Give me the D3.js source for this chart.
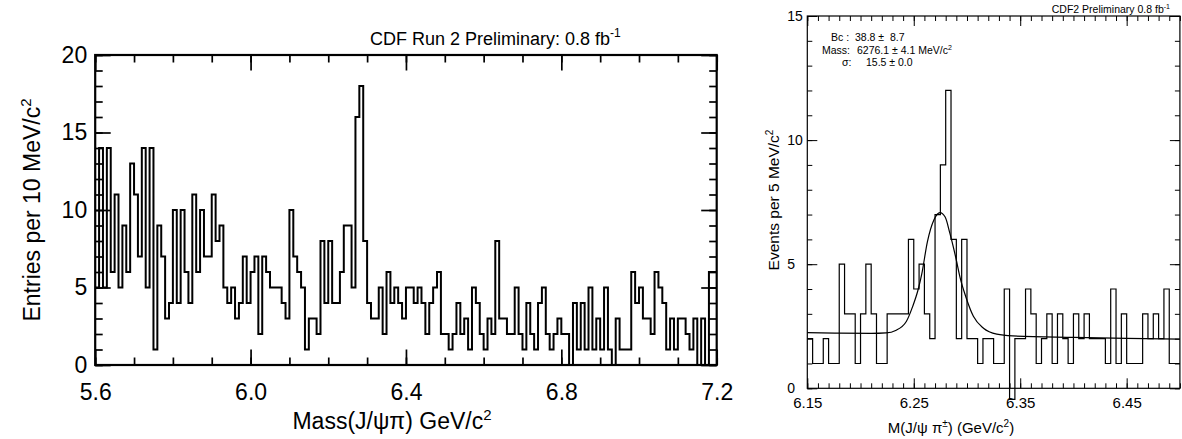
<!DOCTYPE html>
<html lang="en">

<head>
    <meta charset="UTF-8">
    <script src="https://d3js.org/d3.v7.min.js"></script>
    <title>Bc to J/psi pi mass</title>
    <style>
        body { margin: 0; background: #fff; }
        svg text { font-family: "Liberation Sans", Arial, sans-serif; fill: #000; }
    </style>
</head>

<body>
    <svg id="chart" width="1182" height="439"></svg>

    <script>
        // Left panel: entries per 10 MeV bin, 5.6 - 7.2 GeV
        const leftStart = 5.6;
        const leftBinWidth = 0.01;
        const leftCounts = [
            5, 14, 5, 14, 6, 11, 5, 9, 6, 13,
            11, 7, 14, 5, 14, 1, 9, 7, 3, 4,
            10, 4, 10, 6, 4, 11, 6, 10, 7, 7,
            11, 8, 9, 5, 4, 5, 3, 4, 7, 4,
            6, 7, 2, 7, 6, 5, 5, 5, 4, 3,
            10, 7, 6, 5, 1, 3, 3, 2, 8, 4,
            8, 4, 4, 6, 9, 9, 5, 16, 18, 8,
            4, 3, 3, 5, 2, 6, 4, 5, 4, 3,
            5, 5, 4, 5, 4, 2, 4, 5, 6, 2,
            2, 1, 2, 4, 2, 3, 1, 5, 4, 2,
            1, 3, 2, 8, 3, 3, 2, 2, 5, 2,
            1, 4, 2, 1, 4, 5, 2, 1, 2, 3,
            2, 2, 0, 4, 1, 4, 1, 5, 1, 3,
            1, 5, 1, 0, 3, 1, 1, 1, 6, 4,
            5, 3, 3, 2, 6, 5, 4, 1, 3, 1,
            3, 3, 2, 1, 3, 0, 3, 0, 6, 6
        ];
        const leftXTicks = [5.6, 6.0, 6.4, 6.8, 7.2];
        const leftYTicks = [0, 5, 10, 15, 20];

        // Right panel: events per 5 MeV bin, 6.15 - 6.50 GeV
        const rightStart = 6.15;
        const rightBinWidth = 0.005;
        const rightCounts = [
            2, 1, 1, 2, 1, 1, 5, 3, 3, 1,
            3, 5, 3, 1, 1, 3, 3, 3, 3, 6,
            4, 5, 3, 2, 7, 9, 12, 6, 2, 6,
            2, 2, 1, 2, 2, 1, 1, 4, 0, 2,
            2, 4, 3, 1, 2, 3, 1, 3, 2, 1,
            3, 2, 3, 2, 2, 2, 1, 4, 1, 3,
            1, 1, 1, 3, 2, 3, 2, 4, 1, 1
        ];
        const rightXTicks = [6.15, 6.25, 6.35, 6.45];
        const rightYTicks = [0, 5, 10, 15];

        // fitted curve
        const fitMass = [6.150, 6.180, 6.210, 6.224, 6.233, 6.243, 6.249, 6.254, 6.2575, 6.2628,
            6.2691, 6.2746, 6.2795, 6.2839, 6.2893, 6.2937, 6.2988, 6.306, 6.3155, 6.328,
            6.343, 6.400, 6.450, 6.500];
        const fitValue = [2.24, 2.22, 2.21, 2.23, 2.33, 2.69, 3.30, 3.96, 4.6, 5.9,
            6.8, 7.08, 6.9, 6.25, 5.3, 4.43, 3.7, 2.9, 2.42, 2.18,
            2.11, 2.05, 2.01, 1.98];

        const fitLabels = ["Bc :", "Mass:", "\u03c3:"];
        const fitValues = ["38.8 \u00b1  8.7", "6276.1 \u00b1 4.1 MeV/c", "15.5 \u00b1 0.0"];

        const svg = d3.select("svg#chart");

        // step outline for a histogram
        function histPoints(start, bw, counts, floorZero) {
            const pts = counts.map((c, i) => [start + i * bw, (c === 0 && floorZero !== undefined) ? floorZero : c]);
            pts.push([start + counts.length * bw, counts[counts.length - 1]]);
            return pts;
        }

        // ticks pointing into the frame, on all four sides
        function frameTicks(g, x, y, xMajor, xMinor, yMajor, yMinor, len, width) {
            const [x0, x1] = x.range();
            const [y0, y1] = y.range();
            const sides = [
                [d3.axisBottom(x), xMajor, xMinor, `translate(0,${y0})`],
                [d3.axisTop(x), xMajor, xMinor, `translate(0,${y1})`],
                [d3.axisLeft(y), yMajor, yMinor, `translate(${x0},0)`],
                [d3.axisRight(y), yMajor, yMinor, `translate(${x1},0)`]
            ];
            sides.forEach(([axis, major, minor, tr]) => {
                [[minor, len[0]], [major, len[1]]].forEach(([vals, l]) => {
                    const a = g.append("g").attr("transform", tr)
                        .call(axis.tickValues(vals).tickSizeInner(-l).tickSizeOuter(0).tickFormat(""));
                    a.select(".domain").remove();
                    a.selectAll("line").attr("stroke", "#000").attr("stroke-width", width);
                });
            });
        }

        // ---------------- left panel ----------------
        const lx = d3.scaleLinear().domain([5.6, 7.2]).range([95.2, 716.7]);
        const ly = d3.scaleLinear().domain([0, 20]).range([365, 55]);
        const left = svg.append("g").attr("id", "left");

        frameTicks(left, lx, ly,
            leftXTicks, d3.range(0, 17).map(i => 5.6 + i * 0.1),
            leftYTicks, d3.range(0, 21),
            [7.5, 15.5], 1.7);

        left.append("path")
            .datum(histPoints(leftStart, leftBinWidth, leftCounts))
            .attr("fill", "none")
            .attr("stroke", "#000")
            .attr("stroke-width", 2)
            .attr("d", d3.line().x(d => lx(d[0])).y(d => ly(d[1])).curve(d3.curveStepAfter));

        left.append("rect")
            .attr("x", lx(5.6)).attr("y", ly(20))
            .attr("width", lx(7.2) - lx(5.6)).attr("height", ly(0) - ly(20))
            .attr("fill", "none").attr("stroke", "#000").attr("stroke-width", 2.2);

        const lxAxis = left.append("g").attr("transform", `translate(0,${ly(0)})`)
            .call(d3.axisBottom(lx).tickValues(leftXTicks).tickSize(0).tickPadding(19).tickFormat(d3.format(".1f")));
        lxAxis.select(".domain").remove();
        lxAxis.selectAll("text").attr("font-size", 23).attr("font-family", null);

        const lyAxis = left.append("g").attr("transform", `translate(${lx(5.6)},0)`)
            .call(d3.axisLeft(ly).tickValues(leftYTicks).tickSize(0).tickPadding(8).tickFormat(d3.format("d")));
        lyAxis.select(".domain").remove();
        lyAxis.selectAll("text").attr("font-size", 23).attr("font-family", null);

        const lTitle = left.append("text").attr("x", 370).attr("y", 45).attr("font-size", 18);
        lTitle.append("tspan").text("CDF Run 2 Preliminary: 0.8 fb");
        lTitle.append("tspan").attr("dy", -8).attr("font-size", 12).text("-1");

        const lXLabel = left.append("text").attr("x", 392).attr("y", 429)
            .attr("text-anchor", "middle").attr("font-size", 23);
        lXLabel.append("tspan").text("Mass(J/\u03c8\u03c0) GeV/c");
        lXLabel.append("tspan").attr("dy", -9).attr("font-size", 15).text("2");

        const lYLabel = left.append("text")
            .attr("transform", "translate(40,210) rotate(-90)")
            .attr("text-anchor", "middle").attr("font-size", 23);
        lYLabel.append("tspan").text("Entries per 10 MeV/c");
        lYLabel.append("tspan").attr("dy", -9).attr("font-size", 15).text("2");

        // ---------------- right panel ----------------
        const rx = d3.scaleLinear().domain([6.15, 6.50]).range([807.3, 1179.9]);
        const ry = d3.scaleLinear().domain([0, 15]).range([388.3, 16]);
        const right = svg.append("g").attr("id", "right");

        frameTicks(right, rx, ry,
            rightXTicks, d3.range(0, 36).map(i => 6.15 + i * 0.01),
            rightYTicks, d3.range(0, 16),
            [5, 10], 1);

        // empty bins are drawn dropping below the axis, like the original
        right.append("path")
            .datum(histPoints(rightStart, rightBinWidth, rightCounts, -0.45))
            .attr("fill", "none")
            .attr("stroke", "#000")
            .attr("stroke-width", 1.2)
            .attr("d", d3.line().x(d => rx(d[0])).y(d => ry(d[1])).curve(d3.curveStepAfter));

        right.append("path")
            .datum(d3.zip(fitMass, fitValue))
            .attr("fill", "none")
            .attr("stroke", "#000")
            .attr("stroke-width", 1.2)
            .attr("d", d3.line().x(d => rx(d[0])).y(d => ry(d[1])).curve(d3.curveMonotoneX));

        right.append("rect")
            .attr("x", rx(6.15)).attr("y", ry(15))
            .attr("width", rx(6.5) - rx(6.15)).attr("height", ry(0) - ry(15))
            .attr("fill", "none").attr("stroke", "#000").attr("stroke-width", 1.2);

        const rxAxis = right.append("g").attr("transform", `translate(0,${ry(0)})`)
            .call(d3.axisBottom(rx).tickValues(rightXTicks).tickSize(0).tickPadding(9).tickFormat(d3.format(".2f")));
        rxAxis.select(".domain").remove();
        rxAxis.selectAll("text").attr("font-size", 15).attr("font-family", null);

        // y labels sit left-aligned next to the frame
        const ryAxis = right.append("g").attr("transform", `translate(${rx(6.15)},0)`)
            .call(d3.axisLeft(ry).tickValues(rightYTicks).tickSize(0).tickPadding(20).tickFormat(d3.format("d")));
        ryAxis.select(".domain").remove();
        ryAxis.selectAll("text").attr("font-size", 14).attr("font-family", null).attr("text-anchor", "start");

        const rTitle = right.append("text").attr("x", 1170).attr("y", 13)
            .attr("text-anchor", "end").attr("font-size", 10.5);
        rTitle.append("tspan").text("CDF2 Preliminary 0.8 fb");
        rTitle.append("tspan").attr("dy", -4).attr("font-size", 7).text("-1");

        // fit results box
        const labelX = [831, 822, 842];
        const valueX = [855, 857, 866];
        const rowY = [41, 53.5, 65.5];
        fitLabels.forEach((t, i) => {
            right.append("text").attr("x", labelX[i]).attr("y", rowY[i])
                .attr("font-size", 10.5).text(t);
            const v = right.append("text").attr("x", valueX[i]).attr("y", rowY[i])
                .attr("font-size", 10.5).style("white-space", "pre");
            v.append("tspan").text(fitValues[i]);
            if (i === 1) v.append("tspan").attr("dy", -4).attr("font-size", 7).text("2");
        });

        const rXLabel = right.append("text").attr("x", 951).attr("y", 433)
            .attr("text-anchor", "middle").attr("font-size", 15);
        rXLabel.append("tspan").text("M(J/\u03c8 \u03c0");
        rXLabel.append("tspan").attr("dy", -6).attr("font-size", 10).text("\u00b1");
        rXLabel.append("tspan").attr("dy", 6).text(") (GeV/c");
        rXLabel.append("tspan").attr("dy", -6).attr("font-size", 10).text("2");
        rXLabel.append("tspan").attr("dy", 6).text(")");

        const rYLabel = right.append("text")
            .attr("transform", "translate(779,200) rotate(-90)")
            .attr("text-anchor", "middle").attr("font-size", 15.5);
        rYLabel.append("tspan").text("Events per 5 MeV/c");
        rYLabel.append("tspan").attr("dy", -6).attr("font-size", 10).text("2");
    </script>
</body>

</html>
